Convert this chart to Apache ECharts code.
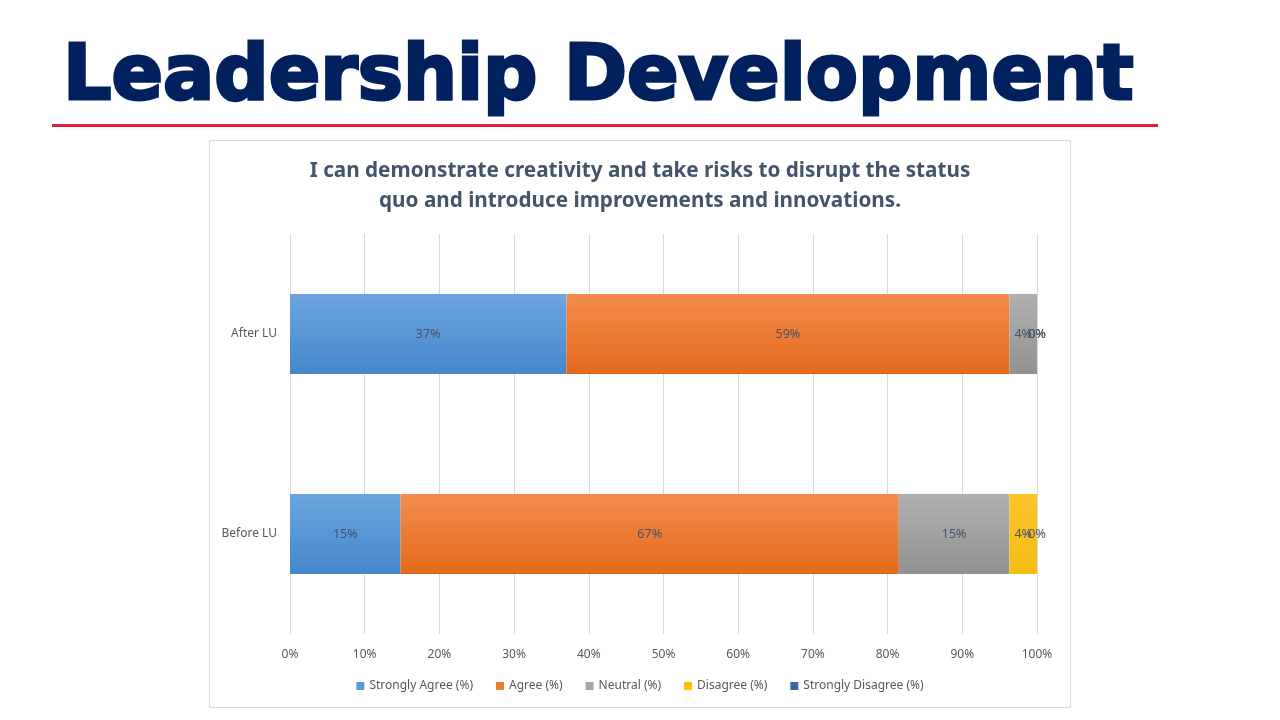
<!DOCTYPE html>
<html>
<head>
<meta charset="utf-8">
<script src="https://cdn.jsdelivr.net/npm/echarts@6/dist/echarts.min.js"></script>
<style>
  html, body { margin: 0; padding: 0; background: #fff; }
  #main { width: 1280px; height: 720px; }
</style>
</head>
<body>
<div id="main"></div>
<script>
// survey data (share of respondents, %)
var categories = ['Before LU', 'After LU'];
var stronglyAgree = [14.8, 37.0];
var agree = [66.7, 59.3];
var neutral = [14.8, 3.7];
var disagree = [3.7, 0];
var stronglyDisagree = [0, 0];
var seriesNames = ['Strongly Agree (%)', 'Agree (%)', 'Neutral (%)', 'Disagree (%)', 'Strongly Disagree (%)'];

function grad(top, bottom) {
  return new echarts.graphic.LinearGradient(0, 0, 0, 1, [
    { offset: 0, color: top },
    { offset: 1, color: bottom }
  ]);
}

var colors = [
  grad('#6da6de', '#4487cb'),
  grad('#f38d4d', '#e4691b'),
  grad('#b0b0b0', '#929292'),
  grad('#fbc52a', '#f5bc15'),
  grad('#3d6ea8', '#2a5a94')
];
var legendColors = ['#5b9bd5', '#ed7d31', '#a5a5a5', '#ffc000', '#3a6aa6'];

function makeSeries(idx, data) {
  return {
    name: seriesNames[idx],
    type: 'bar',
    stack: 'total',
    barWidth: 80,
    data: data,
    itemStyle: { color: colors[idx] },
    label: {
      show: true,
      position: 'inside',
      color: '#44546a',
      fontFamily: 'Noto Sans',
      fontSize: 12.5,
      formatter: function (p) { return Math.round(p.value) + '%'; }
    },
    emphasis: { disabled: true }
  };
}

var chart = echarts.init(document.getElementById('main'));
chart.setOption({
  animation: false,
  color: legendColors,
  graphic: [
    {
      type: 'text', x: 63, y: 79,
      style: {
        text: 'Leadership Development',
        font: 'bold 76px "DejaVu Sans"',
        fill: '#00215e',
        stroke: '#00215e',
        lineWidth: 3,
        verticalAlign: 'middle'
      }
    },
    { type: 'rect', shape: { x: 52, y: 124, width: 1106, height: 3 }, style: { fill: '#e31b3d' } },
    { type: 'rect', z: -1, shape: { x: 209.5, y: 140.5, width: 861, height: 567 }, style: { fill: 'none', stroke: '#d9d9d9', lineWidth: 1 } },
    {
      type: 'text', x: 640, y: 186.5,
      style: {
        text: 'I can demonstrate creativity and take risks to disrupt the status\nquo and introduce improvements and innovations.',
        font: 'bold 20.7px "Noto Sans"',
        lineHeight: 30,
        fill: '#44546a',
        align: 'center',
        verticalAlign: 'middle'
      }
    }
  ],
  legend: {
    bottom: 23,
    left: 'center',
    itemWidth: 8,
    itemHeight: 8,
    itemGap: 23,
    icon: 'rect',
    textStyle: { fontFamily: 'Noto Sans', fontSize: 12, color: '#595959' },
    data: seriesNames.map(function (n, i) { return { name: n, itemStyle: { color: legendColors[i] } }; })
  },
  grid: { left: 290, right: 243, top: 234, bottom: 86 },
  xAxis: {
    type: 'value',
    min: 0,
    max: 100,
    interval: 10,
    axisLine: { show: false },
    axisTick: { show: false },
    axisLabel: { formatter: '{value}%', color: '#595959', fontFamily: 'Noto Sans', fontSize: 12, margin: 15 },
    splitLine: { lineStyle: { color: '#d9d9d9' } }
  },
  yAxis: {
    type: 'category',
    data: categories,
    axisLine: { show: false },
    axisTick: { show: false },
    axisLabel: { color: '#595959', fontFamily: 'Noto Sans', fontSize: 12, margin: 13 }
  },
  series: [
    makeSeries(0, stronglyAgree),
    makeSeries(1, agree),
    makeSeries(2, neutral),
    makeSeries(3, disagree),
    makeSeries(4, stronglyDisagree)
  ]
});
</script>
</body>
</html>
